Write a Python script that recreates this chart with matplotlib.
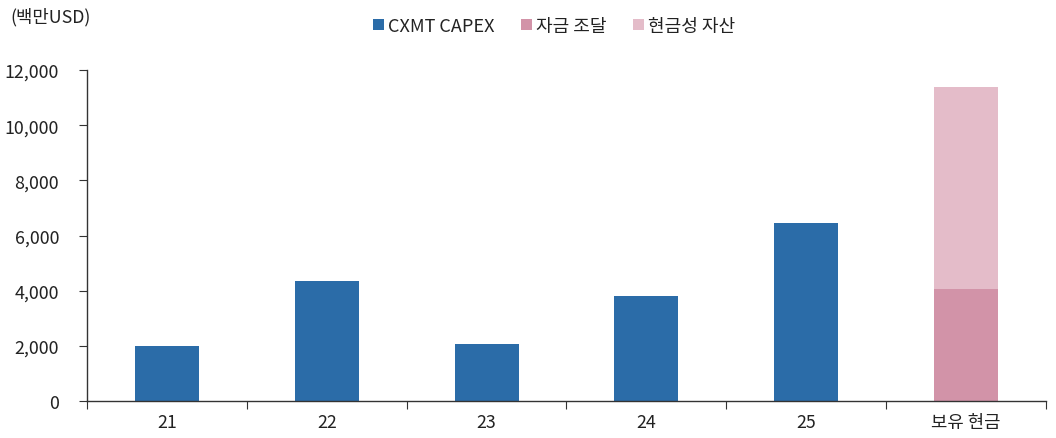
import matplotlib
matplotlib.use("Agg")
import matplotlib.pyplot as plt
import numpy as np

plt.rcParams['font.family'] = ['Noto Sans CJK KR', 'DejaVu Sans']

categories = ['21', '22', '23', '24', '25', '보유 현금']
capex = [1990, 4350, 2060, 3800, 6470, 0]
funding = [0, 0, 0, 0, 0, 4060]
cash_assets = [0, 0, 0, 0, 0, 7320]

c_blue = '#2B6CA8'
c_pink = '#D293A8'
c_light = '#E4BCC9'
txt = '#222222'

fig = plt.figure(figsize=(10.56, 4.39), dpi=100)
ax = fig.add_axes([87/1056, 1-402/439, (1046-87)/1056, (402-71)/439])

x = np.arange(len(categories))
w = 0.4
ax.bar(x, capex, w, color=c_blue, label='CXMT CAPEX')
ax.bar(x, funding, w, color=c_pink, label='자금 조달')
ax.bar(x, cash_assets, w, bottom=funding, color=c_light, label='현금성 자산')

ax.set_xlim(-0.5, len(categories) - 0.5)
ax.set_ylim(0, 12000)
ax.set_yticks(np.arange(0, 12001, 2000))
ax.set_yticklabels([f'{v:,}' for v in range(0, 12001, 2000)], fontsize=12.8, color=txt)
ax.set_xticks(np.arange(-0.5, len(categories), 1))
ax.set_xticklabels([])
ax.set_xticks(x, minor=True)
ax.set_xticklabels(categories, minor=True, fontsize=12.8, color=txt)
ax.tick_params(axis='x', which='minor', length=0, pad=9)
ax.tick_params(axis='x', which='major', length=6, direction='out', color='#333333')
ax.tick_params(axis='y', length=6, direction='out', color='#333333', pad=14)

for s in ['top', 'right']:
    ax.spines[s].set_visible(False)
for s in ['left', 'bottom']:
    ax.spines[s].set_color('#333333')
    ax.spines[s].set_linewidth(1.0)

fig.text(10/1056, 1-17/439, '(백만USD)', fontsize=12.8, color=txt, va='center', ha='left')

leg = fig.legend(loc='center', bbox_to_anchor=(554/1056, 1-27/439), ncol=3, frameon=False,
                 fontsize=13, handlelength=0.6, handleheight=0.6, handletextpad=0.2,
                 columnspacing=1.5)
for t in leg.get_texts():
    t.set_color(txt)

fig.savefig('out.png', dpi=100)
